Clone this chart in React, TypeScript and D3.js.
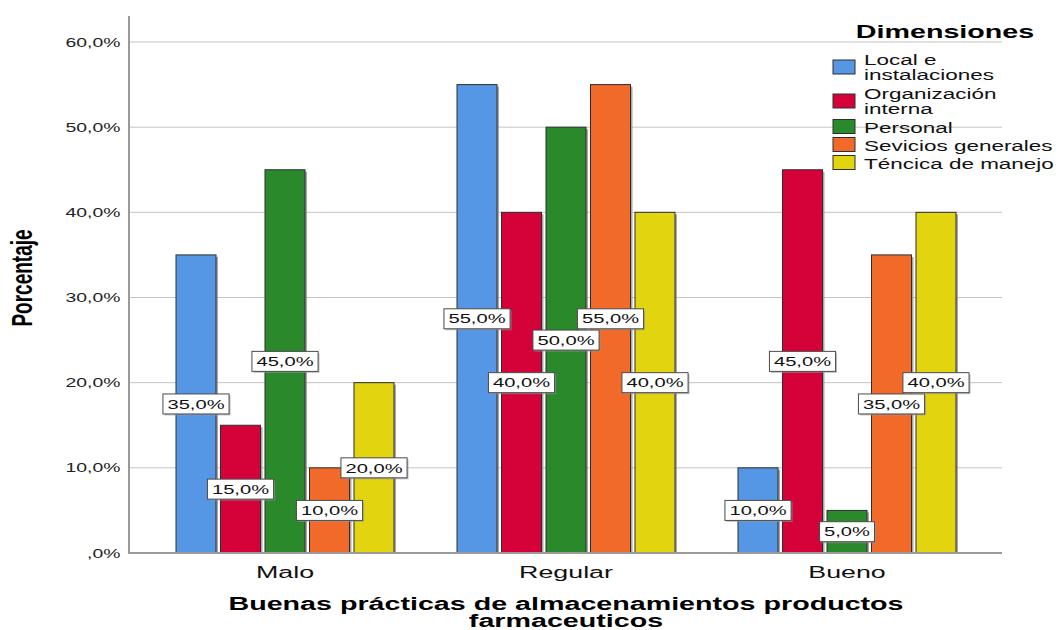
import React from "react";
import * as d3 from "d3";

// Bar chart: "Buenas prácticas de almacenamientos productos farmaceuticos"
const categories = ["Malo", "Regular", "Bueno"];
const seriesNames = [
  ["Local e", "instalaciones"],
  ["Organización", "interna"],
  ["Personal"],
  ["Sevicios generales"],
  ["Téncica de manejo"],
];
const seriesColors = ["#5597E5", "#D5023A", "#2A8A2B", "#F26A2A", "#E2D40F"];
// percentages per category, one array per series
const localInstalaciones = [35, 55, 10];
const organizacionInterna = [15, 40, 45];
const personal = [45, 50, 5];
const seviciosGenerales = [10, 55, 35];
const tecnicaManejo = [20, 40, 40];
const seriesValues = [localInstalaciones, organizacionInterna, personal, seviciosGenerales, tecnicaManejo];
const yTicks = [0, 10, 20, 30, 40, 50, 60];
const xTitleLines = ["Buenas prácticas de almacenamientos productos", "farmaceuticos"];

const W = 1062;
const H = 630;
const SX = 1.55; // horizontal glyph stretch used for all text
const FONT = "'Liberation Sans', Arial, sans-serif";

const plot = { left: 129, right: 1002, top: 16, bottom: 553 };

const fmt = (v: number) => (v === 0 ? ",0%" : `${v.toFixed(1).replace(".", ",")}%`);

let ctx: CanvasRenderingContext2D | null = null;
function measure(text: string, size: number, weight = "normal") {
  if (!ctx) ctx = document.createElement("canvas").getContext("2d");
  if (!ctx) return text.length * size * 0.55;
  ctx.font = `${weight} ${size}px ${FONT}`;
  return ctx.measureText(text).width;
}

function SText(props: {
  x: number;
  y: number;
  size: number;
  anchor?: "start" | "middle" | "end";
  weight?: string | number;
  fill?: string;
  rotate?: number;
  children: React.ReactNode;
}) {
  const { x, y, size, anchor = "start", weight = "normal", fill = "#111", rotate, children } = props;
  const tr = `translate(${x},${y}) scale(${SX},1)` + (rotate ? ` rotate(${rotate})` : "");
  return (
    <text transform={tr} fontSize={size} fontFamily={FONT} fontWeight={weight} textAnchor={anchor} fill={fill}>
      {children}
    </text>
  );
}

export default function App() {
  const x0 = d3.scaleBand<string>().domain(categories).range([144.5, 987.5]).padding(0);
  const groupW = 218;
  const x1 = d3
    .scaleBand<number>()
    .domain(d3.range(seriesValues.length))
    .range([0, groupW])
    .paddingInner(0.101)
    .paddingOuter(0);
  const y = d3.scaleLinear().domain([0, 60]).range([plot.bottom, 42]);

  const groupOffset = (x0.bandwidth() - groupW) / 2;

  // legend layout
  const legendX = 833;
  const lineH = 15;
  let baseline = 65;
  const legendItems = seriesNames.map((lines, i) => {
    const b = baseline;
    const last = b + (lines.length - 1) * lineH;
    baseline = last + (lines.length > 1 ? 19 : 18);
    const center = lines.length > 1 ? (b - 11 + last) / 2 : b - 6.5;
    return { lines, b, center, color: seriesColors[i] };
  });

  return (
    <svg width={W} height={H} style={{ position: "absolute", left: 0, top: 0, background: "#fff" }}>
      <rect x={0} y={0} width={W} height={H} fill="#fff" />

      {/* gridlines */}
      {yTicks
        .filter((t) => t > 0)
        .map((t) => (
          <line key={t} x1={plot.left} x2={plot.right} y1={y(t)} y2={y(t)} stroke="#c4c4c4" strokeWidth={1} />
        ))}

      {/* tick labels */}
      {yTicks.map((t) => (
        <SText key={t} x={120.5} y={y(t) + 4.5} size={12.5} anchor="end" fill="#222">
          {fmt(t)}
        </SText>
      ))}

      {/* bars */}
      {categories.map((c, ci) => (
        <g key={c} transform={`translate(${(x0(c) ?? 0) + groupOffset},0)`}>
          {seriesValues.map((vals, si) => {
            const v = vals[ci];
            const bx = x1(si) ?? 0;
            const by = y(v);
            return (
              <g key={si}>
                <rect x={bx + 2} y={by + 2} width={x1.bandwidth()} height={plot.bottom - by - 2} fill="#8a8a8a" opacity={0.75} />
                <rect
                  x={bx}
                  y={by}
                  width={x1.bandwidth()}
                  height={plot.bottom - by}
                  fill={seriesColors[si]}
                  stroke="#2e2e2e"
                  strokeWidth={1}
                />
              </g>
            );
          })}
        </g>
      ))}

      {/* axes */}
      <line x1={plot.left} x2={plot.left} y1={plot.top} y2={plot.bottom + 1} stroke="#9a9a9a" strokeWidth={2} />
      <line x1={plot.left} x2={plot.right} y1={plot.bottom} y2={plot.bottom} stroke="#9a9a9a" strokeWidth={2} />

      {/* value labels */}
      {categories.map((c, ci) => (
        <g key={c} transform={`translate(${(x0(c) ?? 0) + groupOffset},0)`}>
          {seriesValues.map((vals, si) => {
            const v = vals[ci];
            const cx = (x1(si) ?? 0) + x1.bandwidth() / 2;
            const cy = (y(v) + y(0)) / 2;
            const label = fmt(v);
            const tw = measure(label, 13) * SX;
            const bw = tw + 9;
            const bh = 20;
            return (
              <g key={si}>
                <rect x={cx - bw / 2 + 1.5} y={cy - bh / 2 + 1.5} width={bw} height={bh} fill="#9a9a9a" opacity={0.6} />
                <rect x={cx - bw / 2} y={cy - bh / 2} width={bw} height={bh} fill="#fff" stroke="#4a4a4a" strokeWidth={1} />
                <SText x={cx} y={cy + 4.7} size={13} anchor="middle" fill="#111">
                  {label}
                </SText>
              </g>
            );
          })}
        </g>
      ))}

      {/* category labels */}
      {categories.map((c) => (
        <SText key={c} x={(x0(c) ?? 0) + x0.bandwidth() / 2} y={578} size={17.3} anchor="middle" fill="#111">
          {c}
        </SText>
      ))}

      {/* axis titles */}
      <text
        transform={`translate(566,610) scale(${SX},1)`}
        fontSize={18.5}
        fontFamily={FONT}
        fontWeight="bold"
        textAnchor="middle"
        fill="#000"
      >
        {xTitleLines.map((ln, i) => (
          <tspan key={i} x={0} dy={i === 0 ? 0 : 16.5}>
            {ln}
          </tspan>
        ))}
      </text>
      <SText x={32} y={278} size={19} anchor="middle" weight="bold" fill="#000" rotate={-90}>
        Porcentaje
      </SText>

      {/* legend */}
      <SText x={945} y={38} size={18.5} anchor="middle" weight="bold" fill="#000">
        Dimensiones
      </SText>
      {legendItems.map((it, i) => (
        <g key={i}>
          <rect x={legendX} y={it.center - 7} width={22} height={14} fill={it.color} stroke="#2e2e2e" strokeWidth={1} />
          {it.lines.map((ln, li) => (
            <SText key={li} x={864} y={it.b + li * lineH} size={14.5} fill="#111">
              {ln}
            </SText>
          ))}
        </g>
      ))}
    </svg>
  );
}
